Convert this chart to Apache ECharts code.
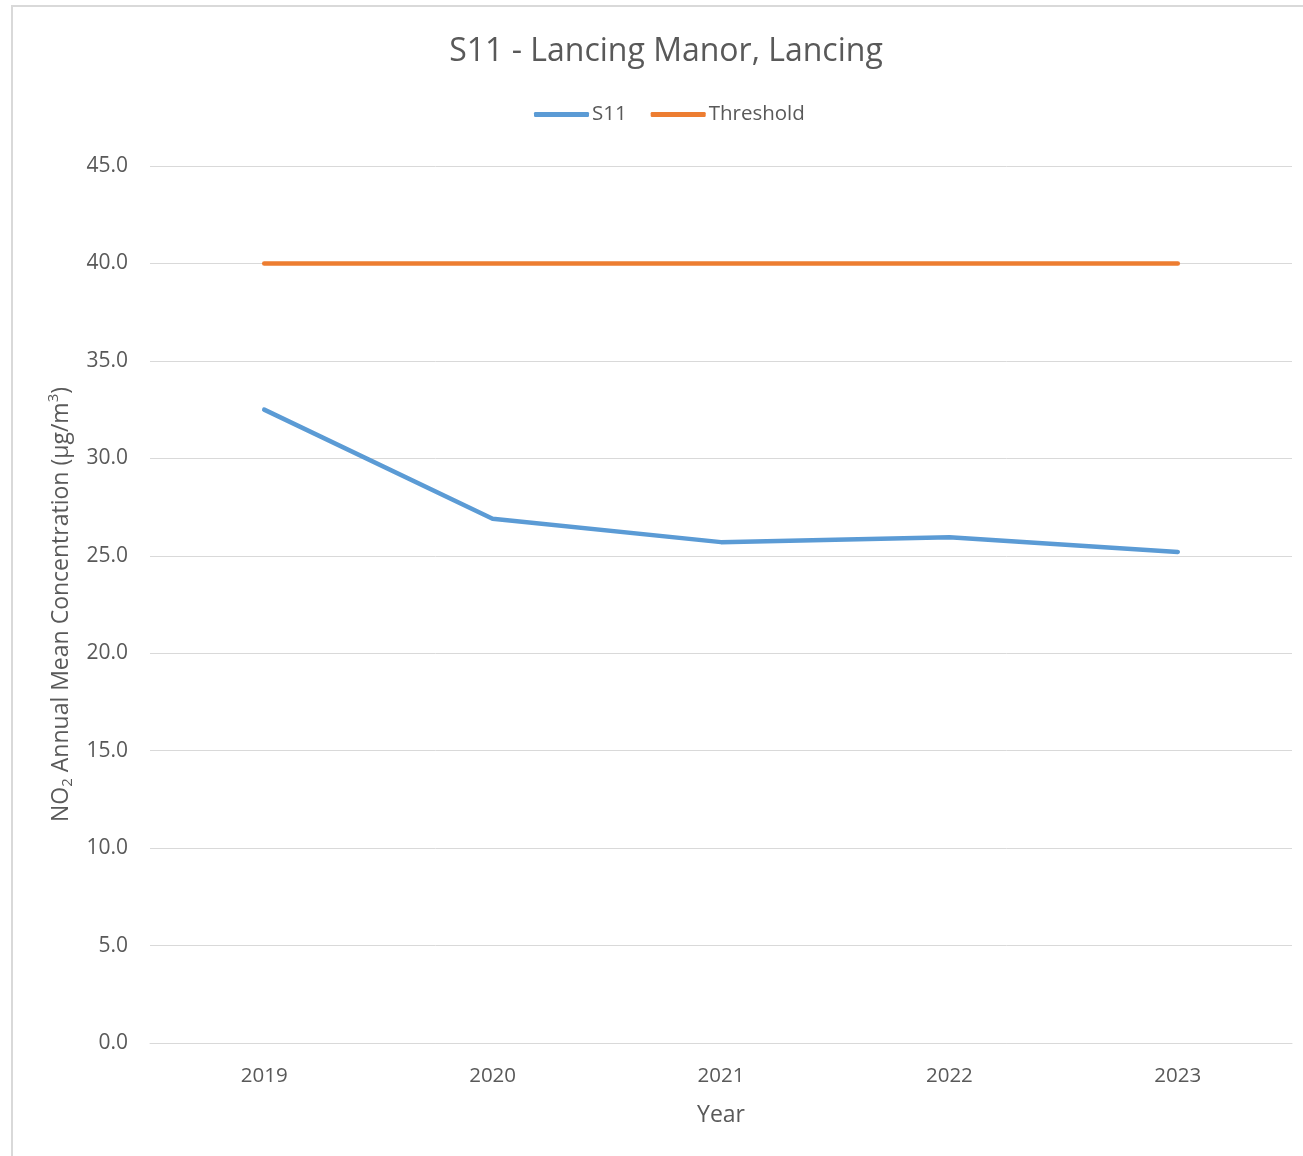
<!DOCTYPE html>
<html>
<head>
<meta charset="utf-8">
<script src="https://cdn.jsdelivr.net/npm/echarts@6/dist/echarts.min.js"></script>
<style>
html,body{margin:0;padding:0;background:#fff;}
#chart{width:1303px;height:1156px;}
</style>
</head>
<body>
<div id="chart"></div>
<script>
const years = ['2019', '2020', '2021', '2022', '2023'];
const s11Values = [32.5, 26.9, 25.7, 25.95, 25.2];
const thresholdValues = [40, 40, 40, 40, 40];
const yTicks = { min: 0, max: 45, interval: 5 };

const chart = echarts.init(document.getElementById('chart'));
const txt = '#595959';
const font = '"Open Sans", "Noto Sans", sans-serif';
chart.setOption({
  backgroundColor: '#ffffff',
  animation: false,
  textStyle: { fontFamily: font },
  graphic: [{
    type: 'rect', silent: true,
    shape: { x: 12, y: 6, width: 1320, height: 1180 },
    style: { fill: 'none', stroke: '#d9d9d9', lineWidth: 2 }
  }],
  title: {
    text: 'S11 - Lancing Manor, Lancing',
    left: 661, textAlign: 'center', top: 31,
    textStyle: { fontFamily: font, fontSize: 32, fontWeight: 'normal', color: txt }
  },
  legend: {
    top: 104, left: 534, padding: 0,
    itemWidth: 55, itemHeight: 5, itemGap: 24,
    icon: 'roundRect',
    textStyle: { fontFamily: font, fontSize: 20.5, color: txt, padding: [0, 0, 0, -2] },
    data: ['S11', 'Threshold']
  },
  grid: { left: 150, right: 11, top: 166, bottom: 113, containLabel: false },
  xAxis: {
    type: 'category', data: years, boundaryGap: true,
    name: 'Year', nameLocation: 'middle', nameGap: 61,
    nameTextStyle: { fontFamily: font, fontSize: 23, color: txt },
    axisLine: { show: true, lineStyle: { color: '#d9d9d9', width: 1 } },
    axisTick: { show: false },
    axisLabel: { fontFamily: font, fontSize: 20.5, color: txt, margin: 23 }
  },
  yAxis: {
    type: 'value', min: yTicks.min, max: yTicks.max, interval: yTicks.interval,
    name: '{m|NO}{sub|2}{m| Annual Mean Concentration (µg/m}{sup|3}{m|)}',
    nameLocation: 'middle', nameGap: 74, nameRotate: 90,
    nameTextStyle: {
      fontFamily: font, fontSize: 23, color: txt,
      rich: {
        m: { fontFamily: font, fontSize: 23, color: txt },
        sub: { fontFamily: font, fontSize: 15, color: txt, verticalAlign: 'bottom', padding: [14, 0, 0, 0] },
        sup: { fontFamily: font, fontSize: 15, color: txt, verticalAlign: 'top', padding: [0, 0, 10, 0] }
      }
    },
    axisLine: { show: false },
    axisTick: { show: false },
    splitLine: { lineStyle: { color: '#d9d9d9', width: 1 } },
    axisLabel: {
      fontFamily: font, fontSize: 21, color: txt, margin: 22,
      formatter: v => v.toFixed(1)
    }
  },
  series: [
    {
      name: 'S11', type: 'line', data: s11Values,
      symbol: 'none', color: '#5b9bd5',
      lineStyle: { width: 4.5, color: '#5b9bd5', cap: 'round', join: 'round' }
    },
    {
      name: 'Threshold', type: 'line', data: thresholdValues,
      symbol: 'none', color: '#ed7d31',
      lineStyle: { width: 4.5, color: '#ed7d31', cap: 'round', join: 'round' }
    }
  ]
});
</script>
</body>
</html>
